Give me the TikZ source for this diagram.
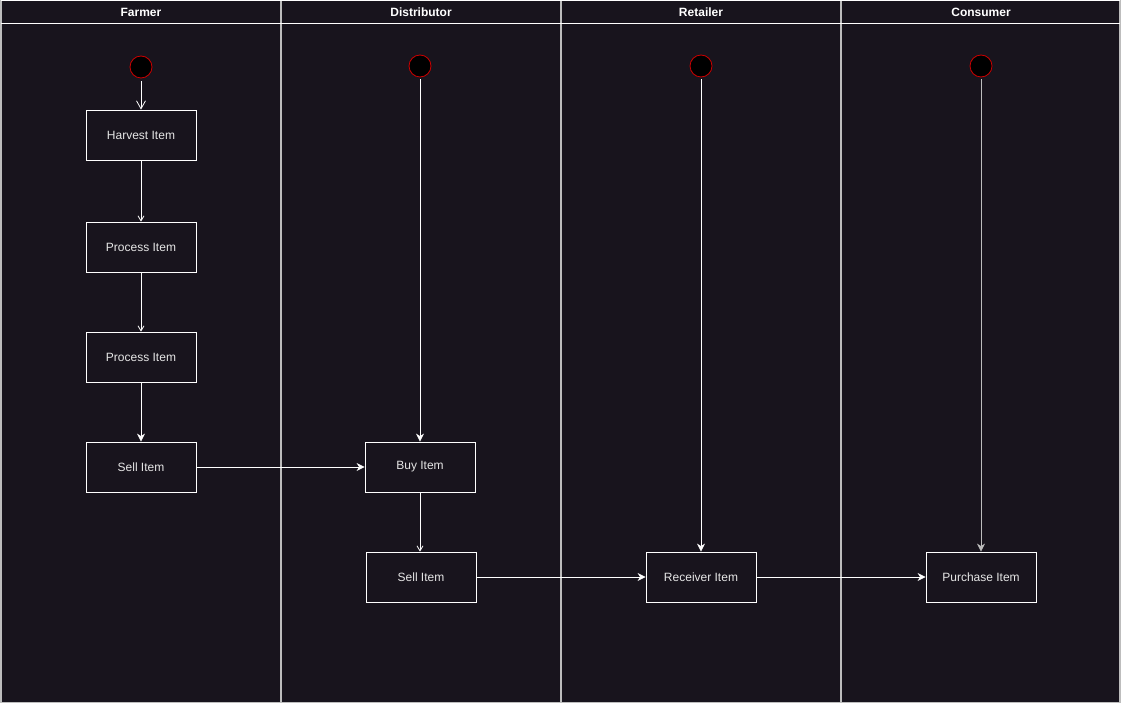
\documentclass[tikz,border=0pt]{standalone}
\usepackage{fontspec}
\setmainfont{Liberation Sans}
\usetikzlibrary{arrows.meta}
\definecolor{bg}{HTML}{18141D}
\definecolor{lanec}{HTML}{BDBDBD}
\definecolor{txt}{HTML}{E6E6E6}
\begin{document}
\begin{tikzpicture}[x=1pt,y=-1pt,
  lane/.style={draw=lanec,line width=1.2pt},
  hdr/.style={font=\bfseries\fontsize{12}{14}\selectfont,text=white},
  act/.style={draw=white,line width=0.8pt,fill=bg,minimum width=110pt,minimum height=50pt,inner sep=0pt,text=txt,font=\fontsize{12}{14}\selectfont},
  start/.style={circle,draw=red!80!black,fill=black,minimum size=22pt,inner sep=0pt,line width=0.8pt},
  flow/.style={draw=white,line width=0.8pt,-{Stealth[length=8pt,width=8pt,inset=2.5pt]}},
  openflow/.style={draw=white,line width=0.8pt,-{Straight Barb[length=5pt,width=6pt]}},
  bigopen/.style={draw=white,line width=0.8pt,-{Straight Barb[length=8pt,width=9pt]}}]
\useasboundingbox (0,0) rectangle (1121,703);
\fill[bg] (0,0) rectangle (1121,703);
% lanes
\draw[lane] (1,0) -- (1,703);
\draw[lane] (281,0) -- (281,703);
\draw[lane] (561,0) -- (561,703);
\draw[lane] (841,0) -- (841,703);
\draw[lane] (1120,0) -- (1120,703);
\draw[white,line width=0.8pt] (1,0.5) -- (1120,0.5);
\draw[white,line width=0.8pt] (1,23) -- (1120,23);
\draw[lanec,line width=0.8pt] (1,702.5) -- (1120,702.5);
\node[hdr] (hf) at (141,12) {Farmer};
\node[hdr] (hd) at (421,12) {Distributor};
\node[hdr] (hr) at (701,12) {Retailer};
\node[hdr] (hc) at (981,12) {Consumer};
% start nodes
\node[start] (s1) at (141,67) {};
\node[start] (s2) at (420,66) {};
\node[start] (s3) at (701,66) {};
\node[start] (s4) at (981,66) {};
% activities
\node[act] (harvest) at (141,135) {Harvest Item};
\node[act] (proc1) at (141,247) {Process Item};
\node[act] (proc2) at (141,357) {Process Item};
\node[act] (sell1) at (141,467) {Sell Item};
\node[act] (buy) at (420,467) {Buy Item};
\node[act] (sell2) at (421,577) {Sell Item};
\node[act] (recv) at (701,577) {Receiver Item};
\node[act] (purch) at (981,577) {Purchase Item};
% connectors
\draw[bigopen] ([yshift=-3pt]s1.south) -- (harvest.north);
\draw[openflow] (harvest) -- (proc1);
\draw[openflow] (proc1) -- (proc2);
\draw[flow] (proc2) -- (sell1);
\draw[flow] ([yshift=-2pt]s2.south) -- (buy.north);
\draw[flow] (sell1) -- (buy);
\draw[openflow] (buy.south) -- (buy.south |- sell2.north);
\draw[flow] (sell2) -- (recv);
\draw[flow] ([yshift=-2pt]s3.south) -- (recv.north);
\draw[flow] (recv) -- (purch);
\draw[flow,draw=lanec] ([yshift=-2pt]s4.south) -- (purch.north);
\end{tikzpicture}
\end{document}
